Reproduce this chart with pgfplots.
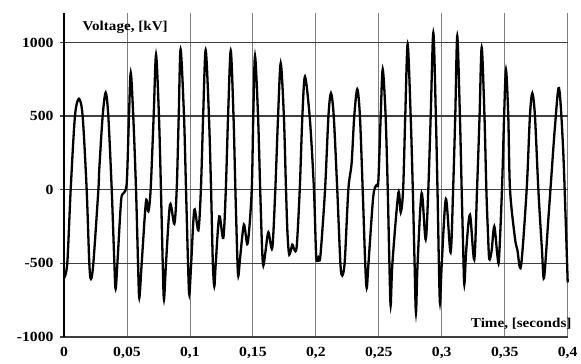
\documentclass[border=0pt]{standalone}
\usepackage{fontspec}
\setmainfont{Liberation Serif}[FakeStretch=1.12]
\usepackage{pgfplots}
\pgfplotsset{compat=1.18}
\begin{document}
\begin{tikzpicture}
\begin{axis}[
  scale only axis,
  width=503.7pt, height=324pt,
  xmin=0, xmax=0.4, ymin=-1000, ymax=1200,
  axis x line=bottom, axis y line=left,
  axis line style={-},
  x axis line style={draw=black!75, line width=1.3pt},
  y axis line style={draw=black, line width=1.6pt},
  xtick={0,0.05,0.1,0.15,0.2,0.25,0.3,0.35,0.4},
  xticklabels={0,{0,05},{0,1},{0,15},{0,2},{0,25},{0,3},{0,35},{0,4}},
  ytick={-1000,-500,0,500,1000},
  yticklabels={-1000,-500,0,500,1000},
  tick align=outside,
  xtick style={draw=none},
  ytick style={draw=black!75, line width=1.2pt},
  major tick length=4pt,
  grid=major,
  x grid style={draw=gray, line width=0.8pt},
  y grid style={draw=black!75, line width=1.2pt},
  ticklabel style={font=\bfseries\fontsize{14}{15}\selectfont},
  yticklabel style={xshift=-3pt},
  xticklabel style={yshift=-3pt},
  clip=false,
]
\addplot[black, line width=2.3pt, smooth, tension=0.5] coordinates {
(0.0000,-600) (0.0026,-500) (0.0053,0) (0.0087,500) (0.0119,617)
(0.0148,500) (0.0180,0) (0.0201,-500) (0.0214,-606)
(0.0233,-500) (0.0273,0) (0.0280,136) (0.0307,500) (0.0331,660)
(0.0352,500) (0.0379,0) (0.0400,-500) (0.0410,-673)
(0.0424,-500) (0.0453,-79) (0.0471,-25) (0.0498,45) (0.0516,500) (0.0530,795)
(0.0550,500) (0.0572,0) (0.0588,-500) (0.0598,-735)
(0.0617,-500) (0.0651,-79) (0.0670,-147) (0.0688,0) (0.0712,500) (0.0731,915)
(0.0754,500) (0.0770,0) (0.0784,-500) (0.0794,-746)
(0.0810,-500) (0.0842,-102) (0.0876,-231) (0.0895,0) (0.0911,500) (0.0926,954)
(0.0953,500) (0.0969,0) (0.0985,-500) (0.0995,-712)
(0.1010,-500) (0.1035,-136) (0.1067,-276) (0.1087,0) (0.1105,500) (0.1125,949)
(0.1151,500) (0.1168,0) (0.1182,-500) (0.1194,-655)
(0.1205,-500) (0.1233,-181) (0.1265,-328) (0.1285,0) (0.1303,500) (0.1324,945)
(0.1346,500) (0.1361,0) (0.1376,-450) (0.1384,-587)
(0.1400,-450) (0.1429,-237) (0.1458,-366) (0.1490,-20) (0.1503,500) (0.1517,908)
(0.1541,500) (0.1558,0) (0.1573,-400) (0.1583,-515)
(0.1600,-420) (0.1623,-289) (0.1654,-395) (0.1678,0) (0.1700,500) (0.1721,859)
(0.1746,500) (0.1763,0) (0.1775,-300) (0.1789,-441)
(0.1813,-373) (0.1829,-407) (0.1848,-385) (0.1872,0) (0.1893,500) (0.1914,768)
(0.1953,475) (0.1985,0) (0.2003,-455) (0.2020,-463) (0.2036,-450)
(0.2073,0) (0.2100,500) (0.2120,655)
(0.2142,500) (0.2170,0) (0.2195,-500) (0.2210,-583)
(0.2230,-480) (0.2258,0) (0.2284,181) (0.2305,500) (0.2329,683)
(0.2350,500) (0.2372,0) (0.2392,-500) (0.2404,-667)
(0.2418,-500) (0.2456,-45) (0.2483,34) (0.2496,55) (0.2515,500) (0.2531,818)
(0.2554,500) (0.2571,0) (0.2584,-500) (0.2594,-786)
(0.2608,-500) (0.2655,-23) (0.2674,-154) (0.2693,0) (0.2710,500) (0.2729,990)
(0.2753,500) (0.2770,0) (0.2784,-500) (0.2795,-836)
(0.2808,-500) (0.2840,-23) (0.2872,-339) (0.2893,0) (0.2912,500) (0.2933,1067)
(0.2953,500) (0.2966,0) (0.2977,-500) (0.2986,-768)
(0.3000,-500) (0.3033,-63) (0.3070,-425) (0.3090,0) (0.3107,500) (0.3123,1044)
(0.3144,500) (0.3158,0) (0.3170,-400) (0.3179,-644)
(0.3195,-400) (0.3224,-170) (0.3258,-475) (0.3280,0) (0.3300,500) (0.3317,967)
(0.3339,500) (0.3354,0) (0.3367,-300) (0.3377,-470)
(0.3395,-420) (0.3417,-249) (0.3441,-441) (0.3454,-475) (0.3478,0) (0.3495,500) (0.3510,813)
(0.3528,500) (0.3542,0) (0.3581,-328) (0.3600,-407) (0.3629,-520)
(0.3674,0) (0.3700,500) (0.3719,655)
(0.3740,500) (0.3767,0) (0.3795,-400) (0.3812,-599)
(0.3846,-203) (0.3873,124) (0.3899,429) (0.3931,690)
(0.3965,249) (0.4000,-630)
};
\node[anchor=west, font=\bfseries\fontsize{13.5}{14}\selectfont] at (rel axis cs:0.030,0.956) {Voltage, [kV]};
\node[anchor=east, font=\bfseries\fontsize{13.5}{14}\selectfont] at (rel axis cs:1.0145,0.042) {Time, [seconds]};
\end{axis}
\pgfresetboundingbox
\path[use as bounding box] ([shift={(-64pt,-26.3pt)}]current axis.south west) rectangle ([shift={(13.3pt,13pt)}]current axis.north east);
\end{tikzpicture}
\end{document}
